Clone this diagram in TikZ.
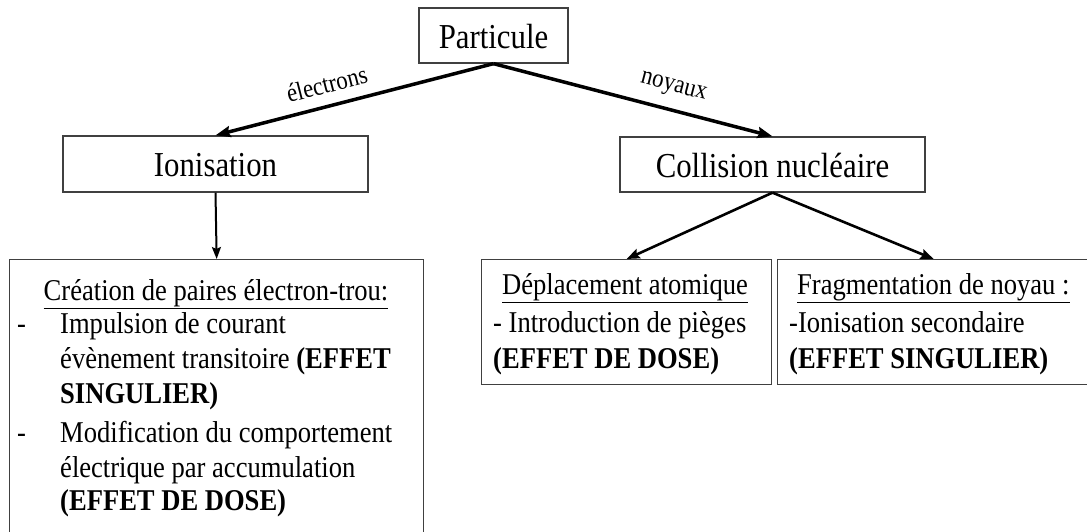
\documentclass[tikz,border=0pt]{standalone}
\usepackage{fontspec}
\setmainfont[FakeStretch=0.88]{Liberation Serif}
\usetikzlibrary{arrows.meta}
\begin{document}
\begin{tikzpicture}[x=1pt,y=-1pt,
  box/.style={draw=black!75, line width=1.3pt, inner sep=0pt},
  bigbox/.style={box, font=\fontsize{35}{40}\selectfont, text height=25pt, text depth=0pt},
  txt/.style={font=\fontsize{30.2}{36}\selectfont, inner sep=0pt, anchor=base west},
  ctxt/.style={txt, anchor=base},
  lbl/.style={font=\fontsize{26}{30}\selectfont, sloped, anchor=south, inner sep=11pt},
  arr/.style={-{Stealth[length=15pt,width=11pt,inset=2pt]}, line width=3.5pt},
  arrs/.style={-{Stealth[length=13pt,width=10pt,inset=2pt]}, line width=2.6pt},
  arrv/.style={-{Stealth[length=12pt,width=9pt,inset=2pt]}, line width=2pt}
]
\useasboundingbox (0,0) rectangle (1087,531);

% main boxes
\node[bigbox, minimum width=149pt, minimum height=55pt] (part) at (493.5,35.5) {Particule};
\node[bigbox, minimum width=305pt, minimum height=56pt] (ionis) at (215.5,164) {Ionisation};
\node[bigbox, minimum width=305pt, minimum height=55pt] (coll) at (772.5,164.5) {Collision nucléaire};

% lower boxes
\node[box, anchor=north west, minimum width=414pt, minimum height=300pt] (creation) at (9,259) {};
\node[box, anchor=north west, minimum width=290pt, minimum height=125pt] (depl) at (481,259) {};
\node[box, anchor=north west, minimum width=312pt, minimum height=125pt] (frag) at (777,259) {};

% arrows
\draw[arr] (part.south) -- node[lbl, pos=0.58] {électrons} (ionis.north);
\draw[arr] (part.south) -- node[lbl, pos=0.625] {noyaux} (coll.north);
\draw[arrv] (ionis.south) -- (creation.north);
\draw[arrs] (coll.south) -- (depl.north);
\draw[arrs] (coll.south) -- (frag.north);

% text of the left box
\node[ctxt] (c0) at (216,300) {\underline{Création de paires électron-trou:}};
\node[txt] (d1) at (17,333) {-};
\node[txt] (c1) at (60,333) {Impulsion de courant};
\node[txt] (c2) at (60,368) {évènement transitoire \textbf{(EFFET}};
\node[txt] (c3) at (60,403) {\textbf{SINGULIER)}};
\node[txt] (d2) at (17,442) {-};
\node[txt] (c4) at (60,442) {Modification du comportement};
\node[txt] (c5) at (60,477) {électrique par accumulation};
\node[txt] (c6) at (60,510) {\textbf{(EFFET DE DOSE)}};

% text of the middle box
\node[ctxt] (p0) at (625,294) {\underline{Déplacement atomique}};
\node[txt] (p1) at (493,332) {- Introduction de pièges};
\node[txt] (p2) at (493,368) {\textbf{(EFFET DE DOSE)}};

% text of the right box
\node[txt] (f0) at (797,294) {\underline{Fragmentation de noyau :}};
\node[txt] (f1) at (789,332) {-Ionisation secondaire};
\node[txt] (f2) at (789,368) {\textbf{(EFFET SINGULIER)}};
\end{tikzpicture}
\end{document}
